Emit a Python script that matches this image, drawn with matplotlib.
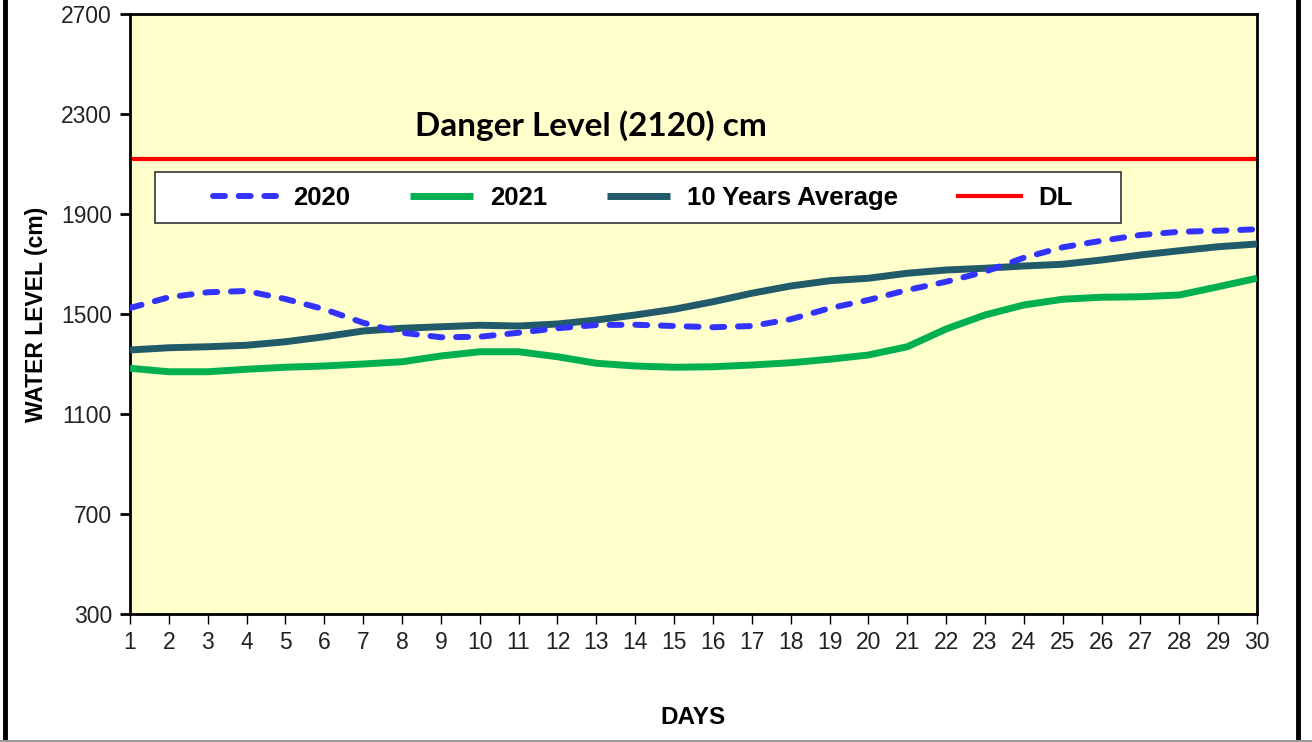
import numpy as np
import matplotlib
matplotlib.use("Agg")
import matplotlib.pyplot as plt
from matplotlib.patches import Rectangle
from matplotlib.lines import Line2D

# data (water level, cm)
days = list(range(1, 31))
level_2020 = [1524, 1567, 1587, 1592, 1560, 1519, 1465, 1425, 1407, 1409,
              1425, 1443, 1456, 1457, 1452, 1447, 1452, 1479, 1523, 1556,
              1596, 1629, 1669, 1725, 1767, 1793, 1816, 1829, 1833, 1839]
level_2021 = [1283, 1269, 1269, 1279, 1287, 1292, 1300, 1309, 1332, 1349,
              1349, 1329, 1303, 1292, 1287, 1289, 1296, 1305, 1319, 1336,
              1369, 1440, 1496, 1536, 1559, 1567, 1569, 1576, 1609, 1643]
level_avg = [1356, 1365, 1369, 1375, 1389, 1409, 1432, 1443, 1449, 1455,
             1452, 1460, 1476, 1496, 1519, 1549, 1583, 1612, 1633, 1643,
             1663, 1676, 1683, 1692, 1699, 1716, 1736, 1753, 1769, 1780]
danger_level = 2120
y_ticks = [300, 700, 1100, 1500, 1900, 2300, 2700]

plt.rcParams['font.family'] = ['Liberation Sans', 'DejaVu Sans']

fig = plt.figure(figsize=(13.12, 7.42), dpi=100)
ax = fig.add_axes([130 / 1312, 128 / 742, 1127 / 1312, 600 / 742])
ax.set_facecolor('#FFFFCC')

ax.plot(days, [danger_level] * len(days), color='#FF0000', lw=3.0,
        label='DL', zorder=2)
ax.plot(days, level_avg, color='#215A69', lw=5.0, label='10 Years Average',
        solid_capstyle='butt', solid_joinstyle='round', zorder=3)
ax.plot(days, level_2021, color='#00B050', lw=5.0, label='2021',
        solid_capstyle='butt', solid_joinstyle='round', zorder=3)
ax.plot(days, level_2020, color='#3333FF', lw=4.3, label='2020',
        dashes=(2.0, 2.3), dash_capstyle='round', zorder=4)

ax.set_xlim(1, 30)
ax.set_ylim(300, 2700)
ax.set_xticks(days)
ax.set_yticks(y_ticks)
ax.tick_params(axis='both', labelsize=16.5, direction='out', length=7,
               labelcolor='#222222')
ax.tick_params(axis='y', width=2, pad=6)
ax.tick_params(axis='x', width=1, pad=5)
for s in ax.spines.values():
    s.set_linewidth(2)
    s.set_color('black')

ax.set_xlabel('DAYS', fontsize=17.5, fontweight='bold', labelpad=38)
ax.set_ylabel('WATER LEVEL (cm)', fontsize=16.5, fontweight='bold', labelpad=9)

ax.text(12.86, 2252, 'Danger Level (2120) cm', fontsize=24, fontweight='bold',
        family=['Lato', 'DejaVu Sans'], ha='center', va='center')

# legend box drawn by hand, entries spread like the original
box = Rectangle((25 / 1127, (614 - 223) / 600), 966 / 1127, 51 / 600,
                transform=ax.transAxes, facecolor='white', edgecolor='#333333',
                lw=1.2, zorder=5)
ax.add_patch(box)
handles, labels = ax.get_legend_handles_labels()
order = [3, 2, 1, 0]
leg = ax.legend([handles[i] for i in order], [labels[i] for i in order],
                loc='center', bbox_to_anchor=(0.455, 0.694), ncol=4,
                frameon=False, handlelength=2.45, handletextpad=0.65,
                columnspacing=2.35,
                prop={'size': 18.5, 'weight': 'bold'})
leg.set_zorder(6)

# outer frame of the picture
fig.add_artist(Line2D([4.5 / 1312] * 2, [0, 1], color='black', lw=3.5))
fig.add_artist(Line2D([1298 / 1312] * 2, [0, 1], color='black', lw=3.5))
fig.add_artist(Line2D([0, 1], [1.5 / 742] * 2, color='#999999', lw=1.5))

fig.savefig('out.png', dpi=100)
